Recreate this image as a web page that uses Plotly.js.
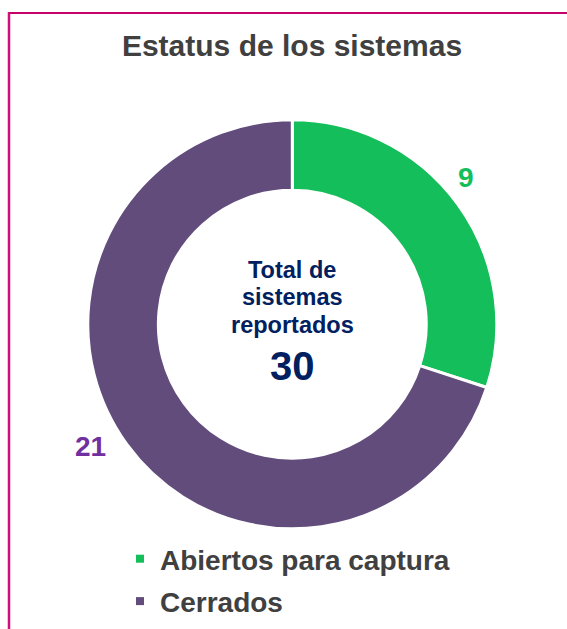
<!DOCTYPE html>
<html>
<head>
<meta charset="utf-8">
<script src="https://cdn.plot.ly/plotly-3.0.1.min.js"></script>
<style>
  html, body { margin: 0; padding: 0; background: #ffffff; }
  #chart { width: 567px; height: 629px; }
</style>
</head>
<body>
<div id="chart"></div>
<script>
const categories = ["Abiertos para captura", "Cerrados"];
const values = [9, 21];
const sliceColors = ["#14BE5A", "#614C7C"];
const labelColors = ["#14BE5A", "#7030A0"];
const chartTitle = "Estatus de los sistemas";
const centerLines = ["Total de", "sistemas", "reportados"];
const total = values.reduce((a, b) => a + b, 0);

const W = 567, H = 629;
const FONT = "Liberation Sans, Arial, sans-serif";
const px = x => x / W;
const py = y => 1 - y / H;

const cx = 292.3, cy = 324.3, R = 204.5;

const pieTrace = {
  type: "pie",
  labels: categories,
  values: values,
  sort: false,
  direction: "clockwise",
  rotation: 0,
  hole: 0.655,
  marker: { colors: sliceColors, line: { color: "#ffffff", width: 3 } },
  textinfo: "none",
  domain: { x: [px(cx - R), px(cx + R)], y: [py(cy + R), py(cy - R)] },
  showlegend: false,
  hoverinfo: "label+value"
};

// legend entries (no data points, legend only)
const legendTraces = categories.map((c, i) => ({
  type: "scatter", mode: "markers", x: [null], y: [null], name: c,
  legendgroup: "g" + i, showlegend: true,
  marker: { symbol: "square", size: 8, color: sliceColors[i] }
}));

// outside value labels
const labelPos = [[466, 178], [90, 447]];
const annotations = values.map((v, i) => ({
  text: String(v), xref: "paper", yref: "paper",
  x: px(labelPos[i][0]), y: py(labelPos[i][1]),
  xanchor: "center", yanchor: "middle", showarrow: false,
  font: { family: FONT, size: 28, weight: "bold", color: labelColors[i] }
}));

const centerY = [270, 297, 325];
centerLines.forEach((t, i) => annotations.push({
  text: t, xref: "paper", yref: "paper", x: px(cx), y: py(centerY[i]),
  xanchor: "center", yanchor: "middle", showarrow: false,
  font: { family: FONT, size: 23.5, weight: "bold", color: "#002060" }
}));
annotations.push({
  text: String(total), xref: "paper", yref: "paper", x: px(cx), y: py(366),
  xanchor: "center", yanchor: "middle", showarrow: false,
  font: { family: FONT, size: 40, weight: "bold", color: "#002060" }
});

const layout = {
  width: W, height: H,
  margin: { l: 0, r: 0, t: 0, b: 0 },
  paper_bgcolor: "#ffffff",
  plot_bgcolor: "rgba(0,0,0,0)",
  xaxis: { visible: false, fixedrange: true },
  yaxis: { visible: false, fixedrange: true },
  title: {
    text: chartTitle, x: px(292), xanchor: "center", y: py(45), yanchor: "middle",
    font: { family: FONT, size: 30, weight: "bold", color: "#404040" }
  },
  legend: {
    x: px(120), xanchor: "left", y: py(534), yanchor: "top",
    font: { family: FONT, size: 28, weight: "bold", color: "#404040" },
    bgcolor: "rgba(0,0,0,0)",
    tracegroupgap: 3
  },
  annotations: annotations,
  shapes: [
    { type: "line", xref: "paper", yref: "paper", x0: px(8), x1: 1, y0: py(13), y1: py(13),
      line: { color: "#C8006A", width: 2 } },
    { type: "line", xref: "paper", yref: "paper", x0: px(9), x1: px(9), y0: py(12), y1: 0,
      line: { color: "#D0107A", width: 2.5 } }
  ]
};

Plotly.newPlot("chart", [pieTrace].concat(legendTraces), layout, { displayModeBar: false, staticPlot: true });
</script>
</body>
</html>
